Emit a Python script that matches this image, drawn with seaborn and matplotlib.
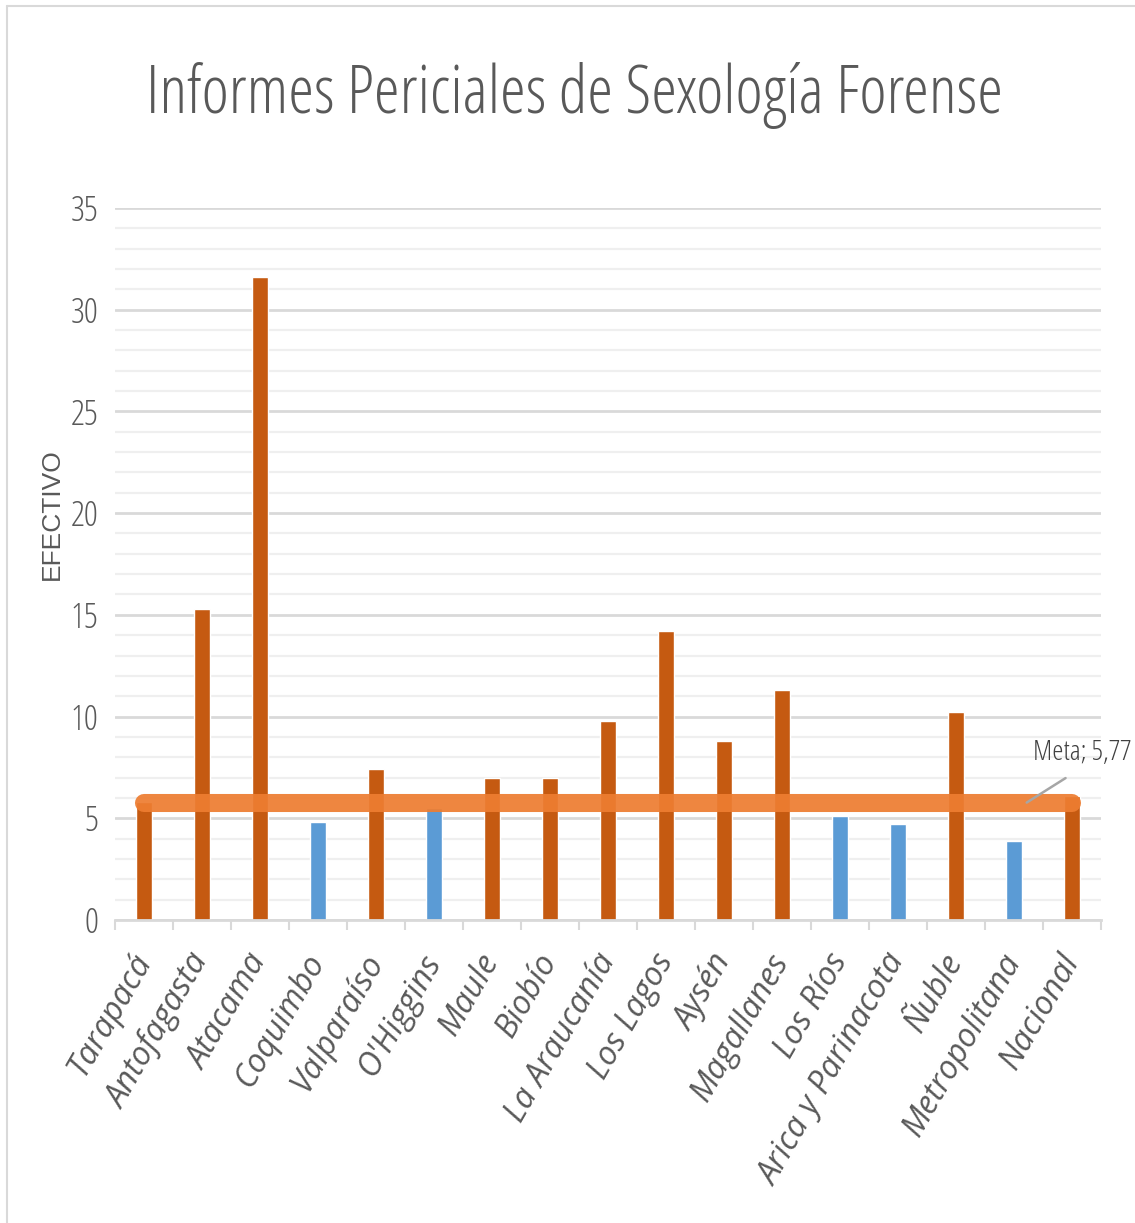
import numpy as np
import pandas as pd
import matplotlib
matplotlib.use("Agg")
import matplotlib.pyplot as plt
from matplotlib.lines import Line2D
from matplotlib.ticker import MultipleLocator, FixedLocator
import seaborn as sns

# Datos
regiones = ["Tarapacá", "Antofagasta", "Atacama", "Coquimbo", "Valparaíso",
            "O'Higgins", "Maule", "Biobío", "La Araucanía", "Los Lagos",
            "Aysén", "Magallanes", "Los Ríos", "Arica y Parinacota", "Ñuble",
            "Metropolitana", "Nacional"]
valores = [5.8, 15.3, 31.6, 4.8, 7.4, 5.5, 7.0, 7.0, 9.8, 14.2,
           8.8, 11.3, 5.1, 4.7, 10.2, 3.9, 6.1]
meta = 5.77
meta_label = "Meta; 5,77"
titulo = "Informes Periciales de Sexología Forense"
y_label = "EFECTIVO"

color_sobre = "#C55A11"
color_bajo = "#5B9BD5"
color_meta = "#ED7D31"
gris_texto = "#595959"

sns.set_style("white")
plt.rcParams["font.family"] = ["Open Sans", "DejaVu Sans"]
plt.rcParams["font.stretch"] = "condensed"
plt.rcParams["font.weight"] = 300

df = pd.DataFrame({"region": regiones, "valor": valores})
df["grupo"] = np.where(df["valor"] >= meta, "sobre", "bajo")

fig = plt.figure(figsize=(11.35, 12.23), dpi=100)
ax = fig.add_axes([0.1013, 0.2478, 0.8687, 0.5821])


def ajustar(texto, ancho_px, base=20, **kw):
    """Devuelve el tamaño de fuente para que el texto mida ancho_px."""
    t = fig.text(0, 0, texto, fontsize=base, **kw)
    fig.canvas.draw()
    w = t.get_window_extent().width
    t.remove()
    return base * ancho_px / w


# grilla
ax.set_ylim(0, 35)
ax.yaxis.set_major_locator(MultipleLocator(5))
ax.yaxis.set_minor_locator(MultipleLocator(1))
ax.grid(which="major", axis="y", color="#D9D9D9", lw=2.0, zorder=0)
ax.grid(which="minor", axis="y", color="#EFEFEF", lw=1.6, zorder=0)
ax.grid(which="major", axis="x", visible=False)
ax.set_axisbelow(True)

sns.barplot(data=df, x="region", y="valor", hue="grupo", order=regiones,
            palette={"sobre": color_sobre, "bajo": color_bajo},
            dodge=False, width=0.29, legend=False, saturation=1, ax=ax, zorder=2)

n = len(regiones)
sns.lineplot(x=np.arange(n), y=[meta] * n, color=color_meta, lw=13, alpha=0.93,
             solid_capstyle="round", ax=ax, zorder=3)

fs_meta = ajustar(meta_label, 98, fontweight=400)
ax.annotate(meta_label, xy=(15.22, meta), xytext=(17.03, 7.5),
            ha="right", va="bottom", fontsize=fs_meta, color="#404040",
            fontweight=400, annotation_clip=False,
            arrowprops=dict(arrowstyle="-", color="#A6A6A6", lw=1.8,
                            relpos=(0.5, 0), shrinkA=10, shrinkB=0))

ax.set_xlim(-0.5, n - 0.5)
for s in ["top", "right", "left"]:
    ax.spines[s].set_visible(False)
ax.spines["bottom"].set_color("#D9D9D9")
ax.spines["bottom"].set_linewidth(2)

# etiquetas del eje x: ancho normal, cursiva
xprops = dict(style="italic", fontstretch="normal", fontweight=400)
fs_x = ajustar("Arica y Parinacota", 262, **xprops)
ax.xaxis.set_minor_locator(FixedLocator(np.arange(n + 1) - 0.5))
ax.tick_params(axis="x", which="minor", length=7, width=1.5, color="#D9D9D9", bottom=True)
ax.tick_params(axis="x", which="major", length=0, pad=26)
ax.tick_params(axis="y", which="both", length=0, pad=12, labelsize=25, labelcolor=gris_texto)
for lab in ax.get_yticklabels():
    lab.set_fontweight(400)
ax.set_xticks(np.arange(n))
ax.set_xticklabels(regiones, rotation=60, ha="right", va="center",
                   rotation_mode="anchor", fontsize=fs_x, color=gris_texto, **xprops)
ax.set_xlabel("")
ax.set_ylabel("")

fig.text(0.046, 0.58, y_label, rotation=90, ha="center", va="center",
         fontsize=19, color=gris_texto, family=["Liberation Sans", "DejaVu Sans"],
         fontstretch="normal", fontweight="normal")

# título ajustado al ancho
fs_t = ajustar(titulo, 858)
fig.text(0.506, 0.922, titulo, ha="center", va="center", fontsize=fs_t, color=gris_texto)

# marco
fig.add_artist(Line2D([7 / 1135, 7 / 1135], [0, 1 - 6 / 1223], color="#D9D9D9", lw=1.5))
fig.add_artist(Line2D([7 / 1135, 1], [1 - 6 / 1223, 1 - 6 / 1223], color="#D9D9D9", lw=1.5))

fig.savefig("out.png", dpi=100)
